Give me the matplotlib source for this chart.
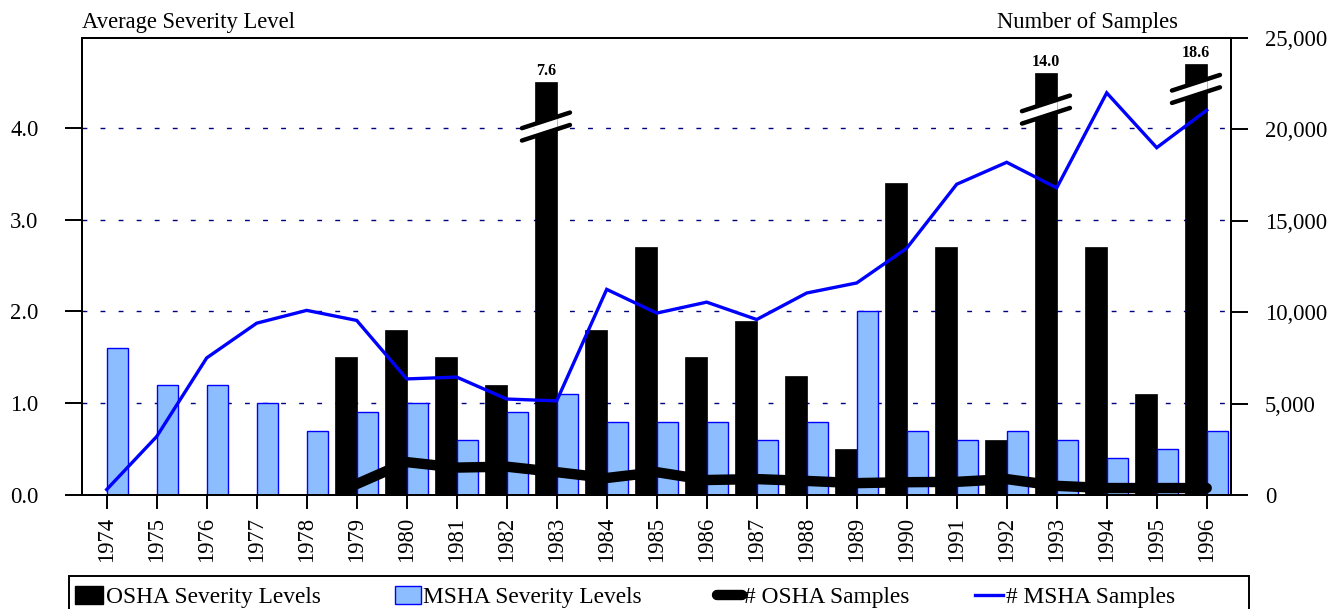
import numpy as np
import matplotlib
matplotlib.use("Agg")
import matplotlib.pyplot as plt
from matplotlib.patches import Rectangle, Polygon, Patch
from matplotlib.lines import Line2D

plt.rcParams['font.family'] = ['Liberation Serif', 'DejaVu Serif']

# ---------------- data ----------------
years = list(range(1974, 1997))
year_labels = [str(y) for y in years]
nan = np.nan
osha_severity = [nan, nan, nan, nan, nan, 1.5, 1.8, 1.5, 1.2, 7.6, 1.8, 2.7, 1.5,
                 1.9, 1.3, 0.5, 3.4, 2.7, 0.6, 14.0, 2.7, 1.1, 18.6]
msha_severity = [1.6, 1.2, 1.2, 1.0, 0.7, 0.9, 1.0, 0.6, 0.9, 1.1, 0.8, 0.8, 0.8,
                 0.6, 0.8, 2.0, 0.7, 0.6, 0.7, 0.6, 0.4, 0.5, 0.7]
osha_samples = [nan, nan, nan, nan, nan, 600, 1800, 1500, 1550, 1250, 930, 1250, 820,
                870, 770, 650, 700, 720, 870, 500, 380, 380, 380]
msha_samples = [300, 3200, 7500, 9400, 10100, 9550, 6350, 6450, 5250, 5150, 11250, 9950,
                10550, 9600, 11050, 11600, 13500, 17000, 18200, 16800, 22000, 19000, 21050]
left_ticks = [0, 1, 2, 3, 4]
right_ticks = [0, 5000, 10000, 15000, 20000, 25000]
legend_labels = ['OSHA Severity Levels', 'MSHA Severity Levels', '# OSHA Samples',
                 '# MSHA Samples']

# broken-bar display (style): drawn height and break centre for off-scale bars
broken_cap = {1983: 4.5, 1993: 4.6, 1996: 4.7}
break_mid = {1983: 4.015, 1993: 4.2, 1996: 4.425}

FS = 16.3
LFS = 16.8

# ---------------- figure ----------------
W, H = 1331, 609
fig = plt.figure(figsize=(W / 100, H / 100), dpi=100)
ax = fig.add_axes([81.7 / W, 1 - 495 / H, (1230.7 - 81.7) / W, (495 - 38) / H])

x = np.arange(len(years))
osha_drawn = [min(v, broken_cap[y]) if y in broken_cap else v
              for y, v in zip(years, osha_severity)]

ax.set_xlim(-0.5, 22.48)
ax.set_ylim(0, 4.98)

# grid
for gy in left_ticks[1:]:
    ax.axhline(gy, color='#000080', lw=1.0, ls=(0, (3.5, 9.5)), zorder=0.5)

ax.bar(x, osha_drawn, width=-0.43, align='edge', color='black', edgecolor='black',
       lw=0.5, zorder=2)
ax.bar(x, msha_severity, width=0.42, align='edge', color='#8CBEFF', edgecolor='#0000FF',
       lw=1.0, zorder=2)

# break marks and value labels
bw = 0.43
gap, dy, half = 0.135, 0.17, 0.48
for yr, val in zip(years, osha_severity):
    if yr not in broken_cap:
        continue
    i = years.index(yr)
    xc = i - bw / 2
    yc = break_mid[yr]
    def yline(xx, off):
        return yc + off + dy * (xx - xc) / (2 * half)
    xl, xr = xc - half, xc + half
    bl, br = xc - bw / 2 - 0.02, xc + bw / 2 + 0.02
    poly = Polygon([(bl, yline(bl, -gap / 2)), (br, yline(br, -gap / 2)),
                    (br, yline(br, gap / 2)), (bl, yline(bl, gap / 2))],
                   closed=True, facecolor='white', edgecolor='none', zorder=4)
    ax.add_patch(poly)
    for off in (-gap / 2, gap / 2):
        ax.plot([xl, xr], [yline(xl, off), yline(xr, off)], color='black', lw=3.2,
                solid_capstyle='round', zorder=5)
    ax.text(xc, broken_cap[yr] + 0.03, f"{val:.1f}", ha='center', va='bottom',
            fontsize=11.5, fontweight='bold', zorder=6)

# axes styling
for s in ax.spines.values():
    s.set_linewidth(1.4)
ax.set_yticks(left_ticks)
ax.set_yticklabels([f"{t:.1f}" for t in left_ticks])
ax.tick_params(axis='y', direction='out', length=12.5, width=1.4, pad=18.5, labelsize=FS)
ax.set_xticks(x)
ax.set_xticklabels(year_labels, rotation=90)
ax.tick_params(axis='x', direction='out', length=10, width=1.4, pad=5.5, labelsize=FS)

ax2 = ax.twinx()
ax2.set_ylim(0, 24900)
ax2.set_yticks(right_ticks)
ax2.set_yticklabels([f"{t:,}" for t in right_ticks])
ax2.tick_params(axis='y', direction='out', length=12.5, width=1.4, pad=12, labelsize=FS)
for s in ax2.spines.values():
    s.set_linewidth(1.4)

ax2.plot(x, msha_samples, color='#0000FF', lw=2.4, solid_joinstyle='miter', zorder=3)
ax2.plot(x, osha_samples, color='black', lw=7.5, solid_capstyle='round',
         solid_joinstyle='round', zorder=4)

# axis titles
fig.text(82 / W, 1 - 28 / H, 'Average Severity Level', ha='left', va='baseline', fontsize=FS)
fig.text(1178 / W, 1 - 28 / H, 'Number of Samples', ha='right', va='baseline', fontsize=FS)

# legend: one entry per anchored legend to match the original's column positions
handles = [Patch(facecolor='black', edgecolor='black'),
           Patch(facecolor='#8CBEFF', edgecolor='#0000FF'),
           Line2D([], [], color='black', lw=7.5, solid_capstyle='round'),
           Line2D([], [], color='#0000FF', lw=2.4)]
entry_x = [75, 395, 717, 975]
entry_len = [1.2, 1.1, 1.05, 1.2]
for h, lab, ex, hl in zip(handles, legend_labels, entry_x, entry_len):
    leg = fig.legend([h], [lab], loc='center left',
                     bbox_to_anchor=(ex / W, 1 - 597 / H), frameon=False,
                     handlelength=hl, handleheight=0.8, handletextpad=0.12,
                     borderpad=0, borderaxespad=0, fontsize=LFS)
fig.patches.append(Rectangle((69 / W, -0.1), (1249 - 69) / W, (1 - 575.7 / H) + 0.1,
                             transform=fig.transFigure, fill=False, edgecolor='black',
                             lw=1.4))

fig.savefig('out.png', dpi=100)
